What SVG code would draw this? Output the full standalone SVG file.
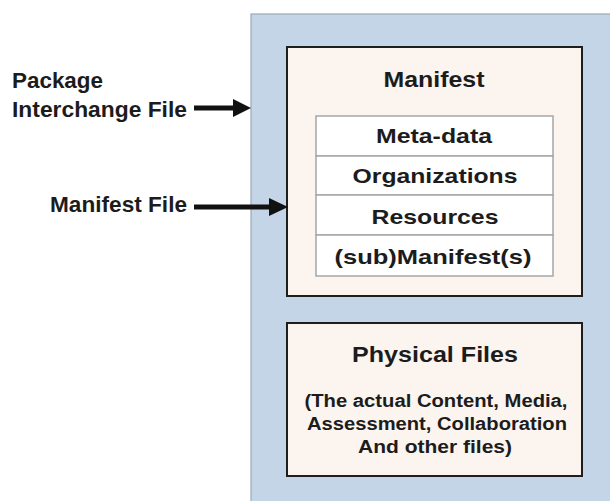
<svg xmlns="http://www.w3.org/2000/svg" width="610" height="501" viewBox="0 0 610 501">
<style>
text{font-family:"Liberation Sans",Arial,Helvetica,sans-serif;font-weight:bold;fill:#1c1c1c}
.lbl{font-size:22px}
.ttl{font-size:22px;text-anchor:middle}
.row{font-size:20.5px;text-anchor:middle}
.sub{font-size:18px;text-anchor:middle}
.box{fill:#fbf4ef;stroke:#1e1e1e;stroke-width:2}
.cell{fill:#ffffff;stroke:#a6a6a6;stroke-width:1.5}
.conn line{stroke:#111;stroke-width:5}
.conn polygon{fill:#111}
</style>
<rect width="610" height="501" fill="#ffffff"/>
<g id="package">
<rect x="251" y="14" width="370" height="500" fill="#c3d5e7" stroke="#9aa8b6" stroke-width="1.2"/>
</g>
<g id="manifest">
<rect class="box" x="287" y="47" width="295" height="249"/>
<text class="ttl" x="434" y="87" textLength="101" lengthAdjust="spacingAndGlyphs">Manifest</text>
<rect class="cell" x="316" y="116" width="237" height="40"/>
<rect class="cell" x="316" y="156" width="237" height="39"/>
<rect class="cell" x="316" y="195" width="237" height="40"/>
<rect class="cell" x="316" y="235" width="237" height="41"/>
<text class="row" x="434" y="143" textLength="116" lengthAdjust="spacingAndGlyphs">Meta-data</text>
<text class="row" x="435" y="183" textLength="165" lengthAdjust="spacingAndGlyphs">Organizations</text>
<text class="row" x="435" y="224" textLength="127" lengthAdjust="spacingAndGlyphs">Resources</text>
<text class="row" x="433" y="264" textLength="197" lengthAdjust="spacingAndGlyphs">(sub)Manifest(s)</text>
</g>
<g id="physical">
<rect class="box" x="287" y="323" width="295" height="153"/>
<text class="ttl" x="435" y="362" textLength="166" lengthAdjust="spacingAndGlyphs">Physical Files</text>
<text class="sub" x="436" y="407" textLength="263" lengthAdjust="spacingAndGlyphs">(The actual Content, Media,</text>
<text class="sub" x="437" y="430" textLength="260" lengthAdjust="spacingAndGlyphs">Assessment, Collaboration</text>
<text class="sub" x="435" y="453" textLength="154" lengthAdjust="spacingAndGlyphs">And other files)</text>
</g>
<g id="label-pif">
<text class="lbl" x="12" y="88" textLength="91" lengthAdjust="spacingAndGlyphs">Package</text>
<text class="lbl" x="12" y="117" textLength="175" lengthAdjust="spacingAndGlyphs">Interchange File</text>
</g>
<g id="label-mf">
<text class="lbl" x="50" y="212" textLength="137" lengthAdjust="spacingAndGlyphs">Manifest File</text>
</g>
<g class="conn" id="connectors">
<line x1="194" y1="108" x2="236" y2="108"/>
<polygon points="233,99 251,108 233,117"/>
<line x1="194" y1="207" x2="272" y2="207"/>
<polygon points="269,198 288,207 269,216"/>
</g>
</svg>
